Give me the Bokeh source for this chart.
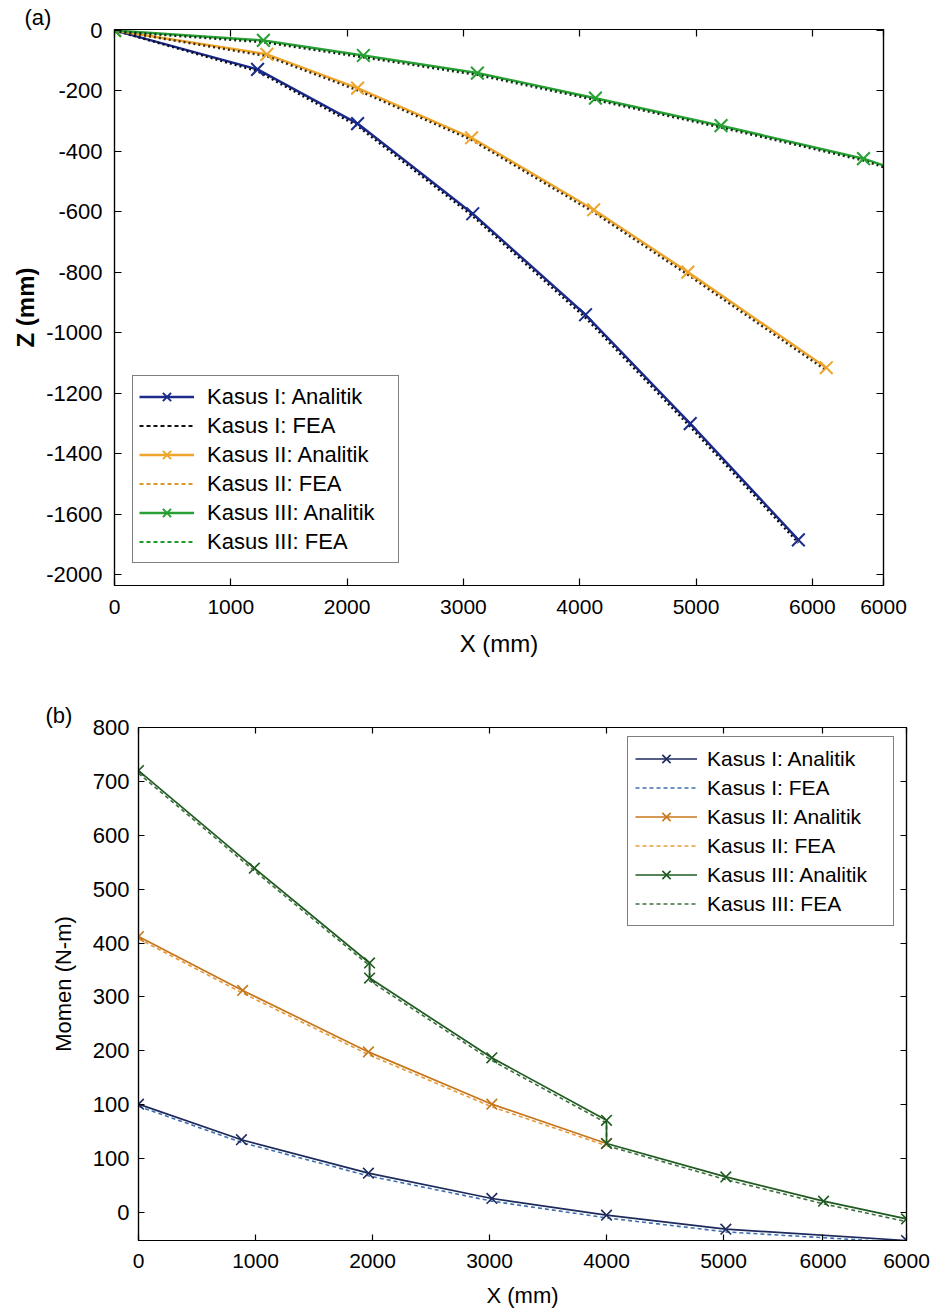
from bokeh.plotting import figure
from bokeh.models import Range1d, FixedTicker, LinearAxis, Legend, LegendItem
from bokeh.embed import file_html
from bokeh.resources import INLINE

SANS = "Liberation Sans"

# ---------------- (a) deflection Z (mm) along X (mm) ----------------
a_x_ticks = [0, 1000, 2000, 3000, 4000, 5000, 6000, 6612]
a_x_tick_labels = ["0", "1000", "2000", "3000", "4000", "5000", "6000", "6000"]
a_z_ticks = [0, -200, -400, -600, -800, -1000, -1200, -1400, -1600, -1800]
a_z_tick_labels = ["0", "-200", "-400", "-600", "-800", "-1000", "-1200", "-1400", "-1600", "-2000"]

a1_x = [0, 1230, 2090, 3080, 4050, 4950, 5880]
a1_z = [0, -129, -308, -606, -940, -1300, -1684]
a1_fea_z = [0, -135, -316, -614, -950, -1310, -1694]

a2_x = [0, 1310, 2090, 3070, 4120, 4930, 6120]
a2_z = [0, -79, -191, -355, -593, -799, -1115]
a2_fea_z = [0, -85, -198, -362, -601, -808, -1124]

a3_x = [0, 1280, 2140, 3120, 4135, 5215, 6440, 6612]
a3_z = [0, -33, -83, -141, -224, -315, -424, -446]
a3_fea_z = [-3, -39, -89, -147, -230, -321, -430, -452]
a3_markers = 7  # the last point only carries the line to the frame edge

# ---------------- (b) moment (N-m) along X (mm) ----------------
b_x_ticks = [0, 1000, 2000, 3000, 4000, 5000, 5850, 6564]
b_x_tick_labels = ["0", "1000", "2000", "3000", "4000", "5000", "6000", "6000"]
b_m_ticks = [800, 700, 600, 500, 400, 300, 200, 100, 0, -100]
b_m_tick_labels = ["800", "700", "600", "500", "400", "300", "200", "100", "100", "0"]

b1_x = [0, 880, 1965, 3020, 4000, 5020, 6564]
b1_m = [101, 35, -27, -74, -105, -131, -152]
b1_fea_m = [97, 30, -32, -79, -110, -136, -156]

b2_x = [0, 890, 1965, 3020, 4000]
b2_m = [412, 312, 198, 101, 28]
b2_fea_m = [408, 307, 193, 96, 24]

b3_x = [0, 990, 1975, 1975, 3020, 4000, 4000, 5020, 5855, 6564]
b3_m = [720, 539, 363, 335, 187, 71, 28, -34, -79, -112]
b3_fea_m = [715, 534, 358, 330, 182, 66, 24, -39, -84, -117]

legend_labels = ["Kasus I: Analitik", "Kasus I: FEA",
                 "Kasus II: Analitik", "Kasus II: FEA",
                 "Kasus III: Analitik", "Kasus III: FEA"]

OFF = [-1e7, -1e7]  # swatch-only renderers sit far outside the ranges


def style_axes(p, xticks, xlabels, yticks, ylabels, tick_len):
    bottom, left = p.below[0], p.left[0]
    bottom.ticker = FixedTicker(ticks=xticks)
    left.ticker = FixedTicker(ticks=yticks)
    bottom.major_label_overrides = {t: s for t, s in zip(xticks, xlabels)}
    left.major_label_overrides = {t: s for t, s in zip(yticks, ylabels)}
    # mirrored box ticks on top and right
    top = LinearAxis(ticker=FixedTicker(ticks=xticks),
                     major_label_overrides={t: "" for t in xticks})
    right = LinearAxis(ticker=FixedTicker(ticks=yticks),
                       major_label_overrides={t: "" for t in yticks})
    p.add_layout(top, "above")
    p.add_layout(right, "right")
    for ax in (bottom, left, top, right):
        ax.major_tick_in = tick_len
        ax.major_tick_out = 0
        ax.minor_tick_line_color = None
        ax.axis_line_color = "black"
        ax.axis_line_width = 1.2
        ax.major_tick_line_color = "black"
        ax.major_tick_line_width = 1.2
        ax.major_label_text_color = "black"
        ax.major_label_text_font = SANS
        ax.axis_label_text_color = "black"
        ax.axis_label_text_font = SANS
        ax.axis_label_text_font_style = "normal"
    for ax in (top, right):
        ax.major_label_text_font_size = "1px"
        ax.major_label_standoff = 0
    p.grid.visible = False
    p.outline_line_color = "black"
    p.outline_line_width = 1.2
    p.background_fill_color = "white"
    p.border_fill_color = "white"
    p.title.text_font = SANS
    p.title.text_font_style = "normal"
    p.title.text_color = "black"
    p.title.text_font_size = "22px"
    p.title.align = "left"
    p.title.standoff = 0
    return bottom, left


# ================= panel (a) =================
pa = figure(width=934, height=680, x_range=Range1d(0, 6612), y_range=Range1d(-1835, 3),
            output_backend="svg", toolbar_location=None, title="(a)",
            min_border_left=114, min_border_right=51, min_border_top=29, min_border_bottom=95)
ax_b, ax_l = style_axes(pa, a_x_ticks, a_x_tick_labels, a_z_ticks, a_z_tick_labels, 7)
pa.title.offset = -90

ax_b.major_label_text_font_size = "21px"
ax_b.major_label_standoff = 14
ax_b.axis_label = "X (mm)"
ax_b.axis_label_text_font_size = "24px"
ax_b.axis_label_standoff = 13
ax_l.major_label_text_font_size = "22px"
ax_l.major_label_standoff = 12
ax_l.axis_label = "Z (mm)"
ax_l.axis_label_text_font_style = "bold"
ax_l.axis_label_text_font_size = "24px"
ax_l.axis_label_standoff = 4

a_cols = ["#1b2b8c", "#eea52c", "#27a034"]
a_fea_plot = ["#0b0b18", "#3d2a0c", "#102e12"]
a_fea_leg = ["#111111", "#d99a2c", "#1e9a2a"]

series_a = [(a1_x, a1_z, a1_fea_z, len(a1_x)),
            (a2_x, a2_z, a2_fea_z, len(a2_x)),
            (a3_x, a3_z, a3_fea_z, a3_markers)]
items_a = []
for i, ((xs, zs, fz, nm), c, fc) in enumerate(zip(series_a, a_cols, a_fea_plot)):
    ln = pa.line(xs, zs, line_color=c, line_width=2.5)
    pa.line(xs, fz, line_color=fc, line_width=2.4, line_dash="2 3")
    mk = pa.scatter(xs[:nm], zs[:nm], marker="x", size=18, line_color=c, line_width=2)
    fe = pa.line(OFF, OFF, line_color=a_fea_leg[i], line_width=2.2, line_dash="4 3")
    items_a.append(LegendItem(label=legend_labels[2 * i], renderers=[ln, mk]))
    items_a.append(LegendItem(label=legend_labels[2 * i + 1], renderers=[fe]))

leg_a = Legend(items=items_a, location=(18, 22), margin=0, padding=6, spacing=0,
               glyph_width=55, glyph_height=29, label_height=29, label_standoff=13,
               label_width=185,
               label_text_font=SANS, label_text_font_size="22px", label_text_color="black",
               border_line_color="black", border_line_width=1.2,
               background_fill_color="white", background_fill_alpha=1)
pa.add_layout(leg_a, "center")

# ================= panel (b) =================
pb = figure(width=934, height=631, x_range=Range1d(0, 6564), y_range=Range1d(-152, 800),
            output_backend="svg", toolbar_location=None, title="(b)",
            min_border_left=138, min_border_right=28, min_border_top=47, min_border_bottom=71)
bx_b, bx_l = style_axes(pb, b_x_ticks, b_x_tick_labels, b_m_ticks, b_m_tick_labels, 6)
pb.title.offset = -93

bx_b.major_label_text_font_size = "21px"
bx_b.major_label_standoff = 13
bx_b.axis_label = "X (mm)"
bx_b.axis_label_text_font_size = "22px"
bx_b.axis_label_standoff = 12
bx_l.major_label_text_font_size = "22px"
bx_l.major_label_standoff = 9
bx_l.axis_label = "Momen (N-m)"
bx_l.axis_label_text_font_size = "22px"
bx_l.axis_label_standoff = 14

b_cols = ["#1d2a5c", "#c8761c", "#1f5a20"]
b_fea = ["#3f6fae", "#e59a3c", "#3e7040"]

series_b = [(b1_x, b1_m, b1_fea_m), (b2_x, b2_m, b2_fea_m), (b3_x, b3_m, b3_fea_m)]
items_b = []
for i, ((xs, ms, fm), c, fc) in enumerate(zip(series_b, b_cols, b_fea)):
    fe = pb.line(xs, fm, line_color=fc, line_width=1.6, line_dash="4 3")
    ln = pb.line(xs, ms, line_color=c, line_width=1.7)
    mk = pb.scatter(xs, ms, marker="x", size=15, line_color=c, line_width=1.6)
    items_b.append(LegendItem(label=legend_labels[2 * i], renderers=[ln, mk]))
    items_b.append(LegendItem(label=legend_labels[2 * i + 1], renderers=[fe]))

leg_b = Legend(items=items_b, location=(489, 314), margin=0, padding=7, spacing=0,
               glyph_width=62, glyph_height=29, label_height=29, label_standoff=10,
               label_width=179,
               label_text_font=SANS, label_text_font_size="21px", label_text_color="black",
               border_line_color="black", border_line_width=1.2,
               background_fill_color="white", background_fill_alpha=1)
pb.add_layout(leg_b, "center")

# two independent roots so each panel keeps its own frame borders
open("out.html", "w").write(file_html([pa, pb], INLINE))
